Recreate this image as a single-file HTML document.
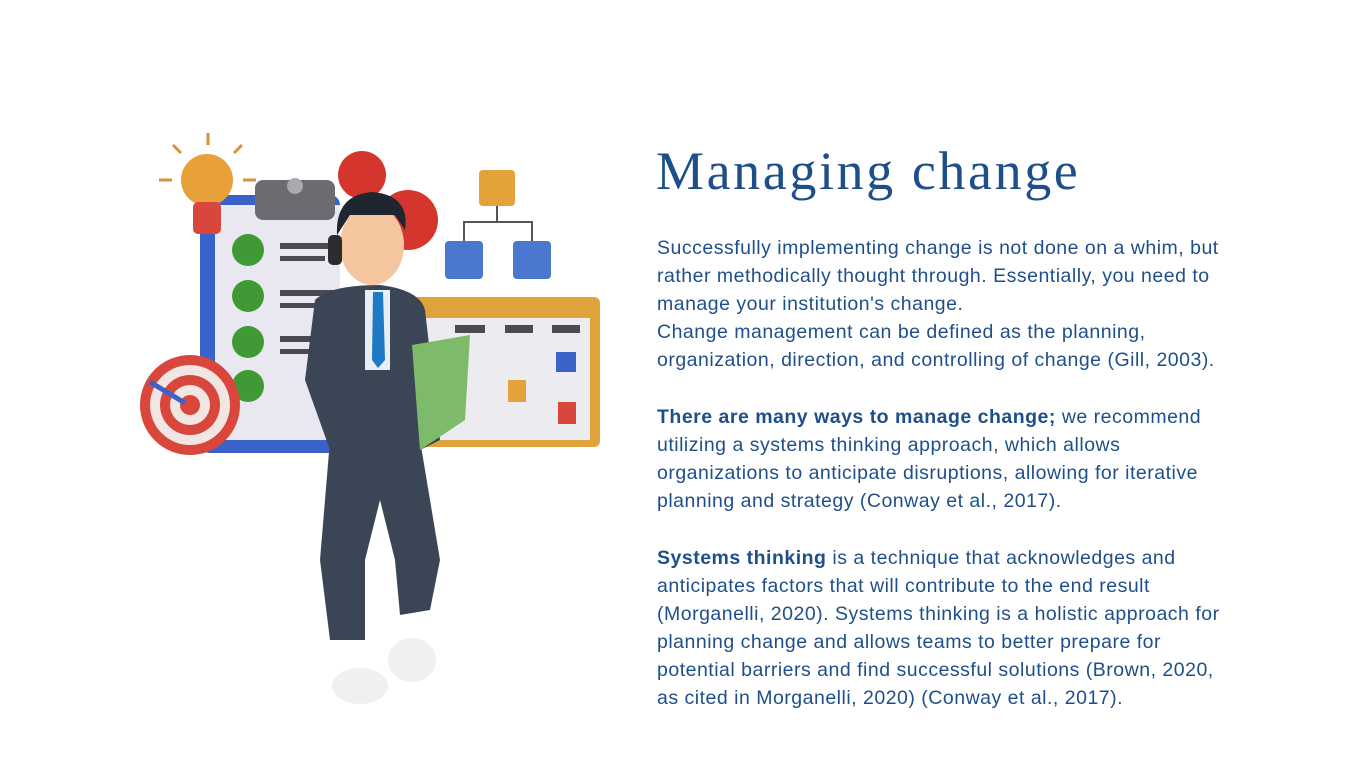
<!DOCTYPE html>
<html><head><meta charset="utf-8"><style>
html,body{margin:0;padding:0;background:#fff;width:1366px;height:768px;overflow:hidden;}
.t{position:absolute;left:657px;font-family:"Liberation Sans",sans-serif;font-size:19.5px;letter-spacing:0.5px;color:#1e4f8a;white-space:nowrap;line-height:28px;}
h1{position:absolute;left:656px;top:140px;margin:0;font-family:"Liberation Serif",serif;font-weight:normal;font-size:54px;color:#1e4f8a;letter-spacing:2.6px;}
b{font-weight:bold;}
</style></head><body>
<svg width="620" height="768" style="position:absolute;left:0;top:0">
 <g>
 <rect x="200" y="195" width="140" height="258" rx="10" fill="#3b62c9"/>
 <rect x="215" y="205" width="125" height="235" fill="#e9e8f0"/>
 <rect x="255" y="180" width="80" height="40" rx="8" fill="#6b6b72"/>
 <circle cx="295" cy="186" r="8" fill="#a9a9b0"/>
 <g fill="#3f9a35"><circle cx="248" cy="250" r="16"/><circle cx="248" cy="296" r="16"/><circle cx="248" cy="342" r="16"/><circle cx="248" cy="386" r="16"/></g>
 <g fill="#4a4a52"><rect x="280" y="243" width="55" height="6"/><rect x="280" y="256" width="45" height="5"/><rect x="280" y="290" width="55" height="6"/><rect x="280" y="303" width="45" height="5"/><rect x="280" y="336" width="40" height="6"/><rect x="280" y="349" width="30" height="5"/></g>
 </g>
 <g>
 <circle cx="190" cy="405" r="50" fill="#d9463c"/><circle cx="190" cy="405" r="40" fill="#f1e6e2"/><circle cx="190" cy="405" r="30" fill="#d9463c"/><circle cx="190" cy="405" r="20" fill="#f1e6e2"/><circle cx="190" cy="405" r="10" fill="#d9463c"/>
 <line x1="150" y1="382" x2="185" y2="403" stroke="#3b62c9" stroke-width="5"/>
 </g>
 <g>
 <circle cx="207" cy="180" r="26" fill="#e8a03a"/><rect x="193" y="202" width="28" height="32" rx="5" fill="#d9463c"/>
 <g stroke="#d4953a" stroke-width="3"><line x1="208" y1="133" x2="208" y2="145"/><line x1="173" y1="145" x2="181" y2="153"/><line x1="242" y1="145" x2="234" y2="153"/><line x1="159" y1="180" x2="172" y2="180"/><line x1="243" y1="180" x2="256" y2="180"/></g>
 </g>
 <g fill="#d4362e">
 <circle cx="362" cy="175" r="24"/><circle cx="408" cy="220" r="30"/>
 </g>
 <g>
 <rect x="479" y="170" width="36" height="36" rx="4" fill="#e3a23a"/>
 <rect x="445" y="241" width="38" height="38" rx="4" fill="#4a78d0"/><rect x="513" y="241" width="38" height="38" rx="4" fill="#4a78d0"/>
 <path d="M497 206 V222 M464 241 V222 H532 V241" stroke="#555" stroke-width="2" fill="none"/>
 </g>
 <g>
 <rect x="412" y="297" width="188" height="150" rx="6" fill="#e0a23a"/>
 <rect x="420" y="318" width="170" height="122" fill="#ecebf0"/>
 <g fill="#4a4a52"><rect x="455" y="325" width="30" height="8"/><rect x="505" y="325" width="28" height="8"/><rect x="552" y="325" width="28" height="8"/></g>
 <rect x="508" y="380" width="18" height="22" fill="#e3a23a"/><rect x="556" y="352" width="20" height="20" fill="#3b62c9"/><rect x="558" y="402" width="18" height="22" fill="#d9463c"/>
 </g>
 <g>
 <path d="M315 300 Q330 285 380 285 Q420 290 425 310 L440 440 L420 450 L330 450 L305 380 Z" fill="#3a4656"/>
 <rect x="365" y="290" width="25" height="80" fill="#e9eef5"/>
 <path d="M373 292 L383 292 L385 360 L378 368 L372 360 Z" fill="#1e7ac4"/>
 <path d="M330 440 L420 440 L440 560 L430 610 L400 615 L395 560 L380 500 L365 560 L365 640 L330 640 L320 560 Z" fill="#3a4656"/>
 <ellipse cx="360" cy="686" rx="28" ry="18" fill="#f0f0f2"/><ellipse cx="412" cy="660" rx="24" ry="22" fill="#f0f0f2"/>
 <path d="M412 345 L470 335 L465 420 L420 450 Z" fill="#7dbb6a"/>
 <ellipse cx="372" cy="245" rx="32" ry="40" fill="#f3c6a0"/>
 <path d="M337 235 Q335 195 372 192 Q410 195 405 230 L395 215 L350 215 Z" fill="#1f2630"/>
 <rect x="328" y="235" width="14" height="30" rx="5" fill="#2b2b30"/>
 </g>
</svg>
<h1>Managing change</h1>
<div>
<div class="t" style="top:234px">Successfully implementing change is not done on a whim, but</div>
<div class="t" style="top:262px">rather methodically thought through. Essentially, you need to</div>
<div class="t" style="top:290px">manage your institution's change.</div>
<div class="t" style="top:318px">Change management can be defined as the planning,</div>
<div class="t" style="top:346px">organization, direction, and controlling of change (Gill, 2003).</div>
</div>
<div>
<div class="t" style="top:403px"><b>There are many ways to manage change;</b> we recommend</div>
<div class="t" style="top:431px">utilizing a systems thinking approach, which allows</div>
<div class="t" style="top:459px">organizations to anticipate disruptions, allowing for iterative</div>
<div class="t" style="top:487px">planning and strategy (Conway et al., 2017).</div>
</div>
<div>
<div class="t" style="top:544px"><b>Systems thinking</b> is a technique that acknowledges and</div>
<div class="t" style="top:572px">anticipates factors that will contribute to the end result</div>
<div class="t" style="top:600px">(Morganelli, 2020). Systems thinking is a holistic approach for</div>
<div class="t" style="top:628px">planning change and allows teams to better prepare for</div>
<div class="t" style="top:656px">potential barriers and find successful solutions (Brown, 2020,</div>
<div class="t" style="top:684px">as cited in Morganelli, 2020) (Conway et al., 2017).</div>
</div>
</body></html>
